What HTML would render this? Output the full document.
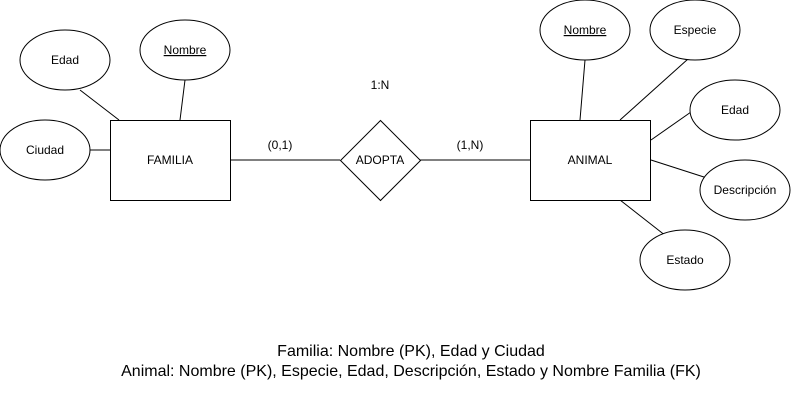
<!DOCTYPE html>
<html><head><meta charset="utf-8"><style>
html,body{margin:0;padding:0;background:#fff;}
svg{display:block;}
text{font-family:"Liberation Sans",Arial,sans-serif;font-size:12px;fill:#000;}
</style></head><body>
<svg width="791" height="401" viewBox="0 0 791 401" xmlns="http://www.w3.org/2000/svg">
<g stroke="#000" stroke-width="1" fill="none">
<line x1="80" y1="90" x2="119" y2="120"/>
<line x1="185" y1="80" x2="180" y2="120"/>
<line x1="90" y1="150" x2="111" y2="150"/>
<line x1="230" y1="160" x2="340" y2="160"/>
<line x1="420" y1="160" x2="530" y2="160"/>
<line x1="585" y1="60" x2="580" y2="120"/>
<line x1="688" y1="59" x2="620" y2="120"/>
<line x1="691" y1="112" x2="651" y2="140"/>
<line x1="651" y1="160" x2="707" y2="178"/>
<line x1="620" y1="200" x2="666" y2="236"/>
<g fill="#fff">
<rect x="110.5" y="120.5" width="120" height="80"/>
<rect x="530.5" y="120.5" width="120" height="80"/>
<polygon points="380.5,120.5 420.5,160.5 380.5,200.5 340.5,160.5"/>
<ellipse cx="65" cy="60" rx="45" ry="30"/>
<ellipse cx="185" cy="50" rx="45" ry="30"/>
<ellipse cx="45" cy="150" rx="45" ry="30"/>
<ellipse cx="585" cy="30" rx="45" ry="30"/>
<ellipse cx="695" cy="30" rx="45" ry="30"/>
<ellipse cx="735" cy="110" rx="45" ry="30"/>
<ellipse cx="745" cy="190" rx="45" ry="30"/>
<ellipse cx="685" cy="260" rx="45" ry="30"/>
</g>
</g>
<g text-anchor="middle">
<text x="65" y="64">Edad</text>
<text x="185" y="54" text-decoration="underline">Nombre</text>
<text x="45" y="154">Ciudad</text>
<text x="170" y="164">FAMILIA</text>
<text x="380" y="164">ADOPTA</text>
<text x="590" y="164">ANIMAL</text>
<text x="280" y="149">(0,1)</text>
<text x="470" y="149">(1,N)</text>
<text x="380" y="89">1:N</text>
<text x="585" y="34" text-decoration="underline">Nombre</text>
<text x="695" y="34">Especie</text>
<text x="735" y="114">Edad</text>
<text x="745" y="194">Descripción</text>
<text x="685" y="264">Estado</text>
<text x="411" y="356" style="font-size:16px">Familia: Nombre (PK), Edad y Ciudad</text>
<text x="411" y="376" style="font-size:16px">Animal: Nombre (PK), Especie, Edad, Descripción, Estado y Nombre Familia (FK)</text>
</g>
</svg>
</body></html>
